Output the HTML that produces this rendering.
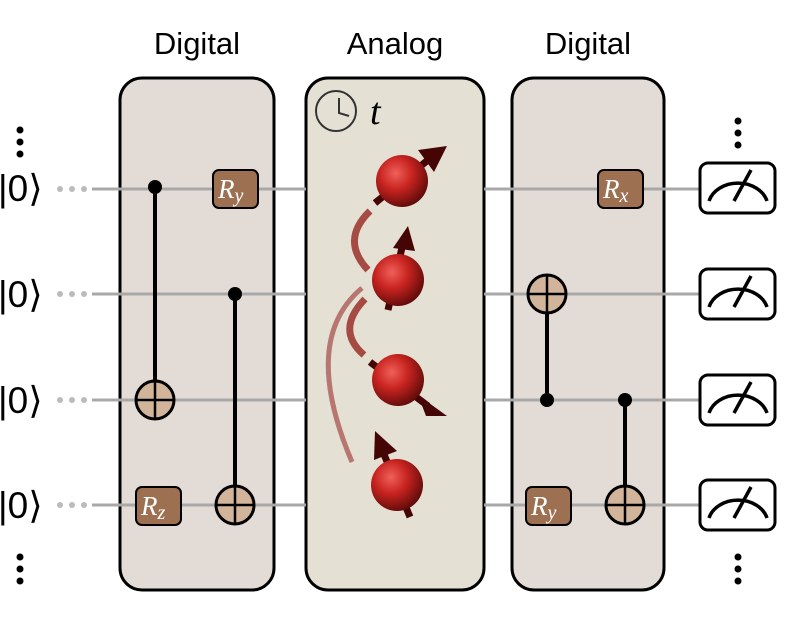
<!DOCTYPE html>
<html><head><style>body{margin:0;background:#fff}</style></head><body>
<svg width="804" height="620" xmlns="http://www.w3.org/2000/svg" font-family="Liberation Sans, sans-serif">
<defs>
<radialGradient id="sp" cx="0.38" cy="0.35" r="0.7">
<stop offset="0" stop-color="#f0605a"/><stop offset="0.45" stop-color="#c82420"/><stop offset="1" stop-color="#5a0a08"/>
</radialGradient>
</defs>
<rect x="120" y="78" width="154" height="512" rx="22" fill="#e3dcd6" stroke="#000" stroke-width="3"/>
<rect x="306" y="78" width="178" height="512" rx="22" fill="#e4e0d4" stroke="#000" stroke-width="3"/>
<rect x="512" y="78" width="152" height="512" rx="22" fill="#e3dcd6" stroke="#000" stroke-width="3"/>
<g font-size="31" text-anchor="middle" fill="#000">
<text x="197" y="54">Digital</text><text x="395" y="54">Analog</text><text x="588" y="54">Digital</text>
</g>
<g fill="#000">
<circle cx="20" cy="130" r="3.5"/><circle cx="20" cy="142" r="3.5"/><circle cx="20" cy="154" r="3.5"/>
<circle cx="20" cy="557" r="3.5"/><circle cx="20" cy="569" r="3.5"/><circle cx="20" cy="581" r="3.5"/>
<circle cx="738" cy="121" r="3.5"/><circle cx="738" cy="133" r="3.5"/><circle cx="738" cy="145" r="3.5"/>
<circle cx="738" cy="557" r="3.5"/><circle cx="738" cy="569" r="3.5"/><circle cx="738" cy="581" r="3.5"/>
</g>
<g font-size="37" fill="#000">
<text x="-2" y="201">|0⟩</text><text x="-2" y="307">|0⟩</text><text x="-2" y="413">|0⟩</text><text x="-2" y="518">|0⟩</text>
</g>
<g fill="#bbb">
<circle cx="60" cy="189" r="3"/><circle cx="72" cy="189" r="3"/><circle cx="84" cy="189" r="3"/>
<circle cx="60" cy="294" r="3"/><circle cx="72" cy="294" r="3"/><circle cx="84" cy="294" r="3"/>
<circle cx="60" cy="400" r="3"/><circle cx="72" cy="400" r="3"/><circle cx="84" cy="400" r="3"/>
<circle cx="60" cy="505" r="3"/><circle cx="72" cy="505" r="3"/><circle cx="84" cy="505" r="3"/>
</g>
<g stroke="#a8a8a8" stroke-width="3">
<line x1="92" y1="189" x2="306" y2="189"/><line x1="484" y1="189" x2="700" y2="189"/>
<line x1="92" y1="294" x2="306" y2="294"/><line x1="484" y1="294" x2="700" y2="294"/>
<line x1="92" y1="400" x2="306" y2="400"/><line x1="484" y1="400" x2="700" y2="400"/>
<line x1="92" y1="505" x2="306" y2="505"/><line x1="484" y1="505" x2="700" y2="505"/>
</g>
<g stroke="#000" stroke-width="4" fill="none">
<line x1="155" y1="187" x2="155" y2="400"/><line x1="235" y1="294" x2="235" y2="505"/>
<line x1="547" y1="294" x2="547" y2="400"/><line x1="625" y1="400" x2="625" y2="505"/>
</g>
<g fill="#000"><circle cx="155" cy="187" r="7"/><circle cx="235" cy="294" r="7"/><circle cx="547" cy="400" r="7"/><circle cx="625" cy="400" r="7"/></g>
<g fill="#d2b49a" stroke="#000" stroke-width="3">
<circle cx="155" cy="400" r="19"/><circle cx="235" cy="505" r="19"/><circle cx="547" cy="294" r="19"/><circle cx="625" cy="505" r="19"/>
</g>
<g stroke="#000" stroke-width="2.5">
<line x1="136" y1="400" x2="174" y2="400"/><line x1="155" y1="381" x2="155" y2="419"/>
<line x1="216" y1="505" x2="254" y2="505"/><line x1="235" y1="486" x2="235" y2="524"/>
<line x1="528" y1="294" x2="566" y2="294"/><line x1="547" y1="275" x2="547" y2="313"/>
<line x1="606" y1="505" x2="644" y2="505"/><line x1="625" y1="486" x2="625" y2="524"/>
</g>
<g fill="#9c7050" stroke="#000" stroke-width="2">
<rect x="213" y="170" width="45" height="38" rx="6"/><rect x="136" y="487" width="45" height="38" rx="6"/>
<rect x="598" y="170" width="45" height="38" rx="6"/><rect x="526" y="487" width="45" height="38" rx="6"/>
</g>
<g fill="#fff" font-family="Liberation Serif, serif" font-style="italic" font-size="27">
<text x="218" y="198">R<tspan font-size="20" dy="4">y</tspan></text>
<text x="141" y="515">R<tspan font-size="20" dy="4">z</tspan></text>
<text x="603" y="198">R<tspan font-size="20" dy="4">x</tspan></text>
<text x="531" y="515">R<tspan font-size="20" dy="4">y</tspan></text>
</g>
<circle cx="336" cy="111" r="20" fill="none" stroke="#333" stroke-width="2"/>
<path d="M339 98 L339 113 L349 116" fill="none" stroke="#333" stroke-width="2"/>
<text x="370" y="124" font-family="Liberation Serif, serif" font-style="italic" font-size="38">t</text>
<g fill="none" stroke-linecap="butt">
<path d="M370 211 Q340 240 368 270" stroke="#a64a44" stroke-width="7"/>
<path d="M365 299 Q335 330 364 355" stroke="#a64a44" stroke-width="7"/>
<path d="M362 288 Q300 340 352 462" stroke="#b87670" stroke-width="5"/>
</g>
<g stroke="#450505" stroke-width="7" fill="#450505">
<line x1="375" y1="203" x2="428" y2="160"/><polygon points="447,146 418,150 434,172" stroke="none"/>
<line x1="388" y1="310" x2="403" y2="243"/><polygon points="408,226 393,248 415,251" stroke="none"/>
<line x1="370" y1="362" x2="428" y2="406"/><polygon points="447,416 418,395 426,416" stroke="none"/>
<line x1="410" y1="517" x2="383" y2="452"/><polygon points="375,431 374,460 397,451" stroke="none"/>
</g>
<g>
<circle cx="402" cy="181" r="26" fill="url(#sp)"/>
<circle cx="398" cy="280" r="26" fill="url(#sp)"/>
<circle cx="398" cy="380" r="26" fill="url(#sp)"/>
<circle cx="397" cy="485" r="26" fill="url(#sp)"/>
</g>
<g fill="#fff" stroke="#000" stroke-width="3">
<rect x="700" y="163" width="75" height="50" rx="8"/>
<rect x="700" y="269" width="75" height="50" rx="8"/>
<rect x="700" y="375" width="75" height="50" rx="8"/>
<rect x="700" y="480" width="75" height="50" rx="8"/>
</g>
<g fill="none" stroke="#000" stroke-width="3.5">
<path d="M709 201 A30 24 0 0 1 767 201"/><line x1="734" y1="201" x2="751" y2="170"/>
<path d="M709 307 A30 24 0 0 1 767 307"/><line x1="734" y1="307" x2="751" y2="276"/>
<path d="M709 413 A30 24 0 0 1 767 413"/><line x1="734" y1="413" x2="751" y2="382"/>
<path d="M709 518 A30 24 0 0 1 767 518"/><line x1="734" y1="518" x2="751" y2="487"/>
</g>
</svg>
</body></html>
